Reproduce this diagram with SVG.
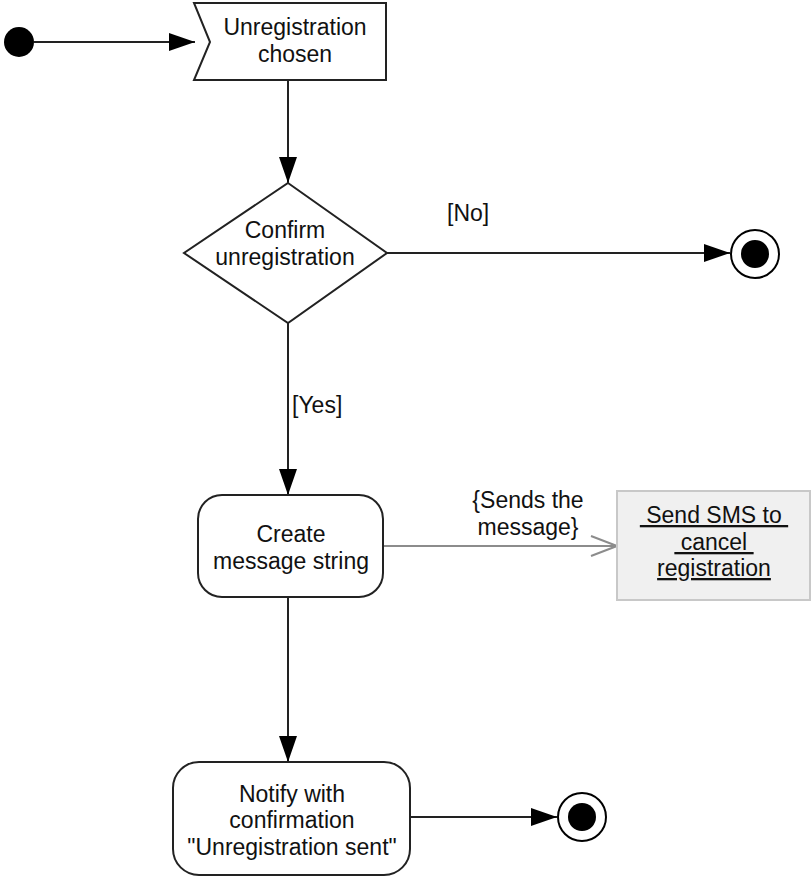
<svg xmlns="http://www.w3.org/2000/svg" width="811" height="880" viewBox="0 0 811 880">
<style>
  text { font-family: "Liberation Sans", Arial, sans-serif; font-size: 23px; fill: #111; text-anchor: middle; }
  .node { fill: #fff; stroke: #222; stroke-width: 2; }
  .edge { fill: none; stroke: #222; stroke-width: 2; }
  .dep { fill: none; stroke: #8c8c8c; stroke-width: 2; }
  .lbl { text-anchor: start; }
  .ul { text-decoration: underline; white-space: pre; }
</style>
<defs>
  <marker id="arr" viewBox="0 0 26 18" refX="26" refY="9" markerWidth="26" markerHeight="18" markerUnits="userSpaceOnUse" orient="auto">
    <path d="M0,0 L26,9 L0,18 Z" fill="#000"/>
  </marker>
  <marker id="open" viewBox="0 0 28 22" refX="27" refY="11" markerWidth="28" markerHeight="22" markerUnits="userSpaceOnUse" orient="auto">
    <path d="M1,1 L27,11 L1,21" fill="none" stroke="#8c8c8c" stroke-width="2"/>
  </marker>
</defs>

<g id="connectors">
  <line class="edge" x1="34" y1="42" x2="195" y2="42" marker-end="url(#arr)"/>
  <line class="edge" x1="288" y1="80" x2="288" y2="183" marker-end="url(#arr)"/>
  <line class="edge" x1="387" y1="253" x2="730" y2="253" marker-end="url(#arr)"/>
  <text class="lbl" x="447" y="221">[No]</text>
  <line class="edge" x1="288" y1="323" x2="288" y2="495" marker-end="url(#arr)"/>
  <text class="lbl" x="292" y="413">[Yes]</text>
  <line class="dep" x1="383" y1="546" x2="617" y2="546" marker-end="url(#open)"/>
  <text x="528" y="508">{Sends the</text>
  <text x="528" y="535">message}</text>
  <line class="edge" x1="288" y1="597" x2="288" y2="762" marker-end="url(#arr)"/>
  <line class="edge" x1="410" y1="817" x2="557" y2="817" marker-end="url(#arr)"/>
</g>

<g id="start">
  <circle cx="19" cy="42" r="15" fill="#000"/>
</g>

<g id="unregistration-chosen">
  <polygon class="node" points="194,3 386,3 386,80 194,80 210,42"/>
  <text x="295" y="35">Unregistration</text>
  <text x="295" y="62">chosen</text>
</g>

<g id="confirm">
  <polygon class="node" points="288,183 387,253 288,323 184,253"/>
  <text x="285" y="238">Confirm</text>
  <text x="285" y="265">unregistration</text>
</g>

<g id="end-no">
  <circle cx="755" cy="254" r="24" fill="#fff" stroke="#000" stroke-width="2"/>
  <circle cx="755" cy="254" r="14" fill="#000"/>
</g>

<g id="create-message">
  <rect class="node" x="198" y="495" width="185" height="102" rx="24" ry="24"/>
  <text x="291" y="542">Create</text>
  <text x="291" y="569">message string</text>
</g>

<g id="send-sms">
  <rect x="617" y="491" width="193" height="109" fill="#f0f0f0" stroke="#c8c8c8" stroke-width="2"/>
  <text class="ul" x="714" y="523"> Send SMS to </text>
  <text class="ul" x="714" y="550"> cancel </text>
  <text class="ul" x="714" y="576">registration</text>
</g>

<g id="notify">
  <rect class="node" x="173" y="762" width="237" height="113" rx="26" ry="26"/>
  <text x="292" y="802">Notify with</text>
  <text x="292" y="828">confirmation</text>
  <text x="292" y="855">"Unregistration sent"</text>
</g>

<g id="end-final">
  <circle cx="582" cy="817" r="24" fill="#fff" stroke="#000" stroke-width="2"/>
  <circle cx="582" cy="817" r="14" fill="#000"/>
</g>
</svg>
